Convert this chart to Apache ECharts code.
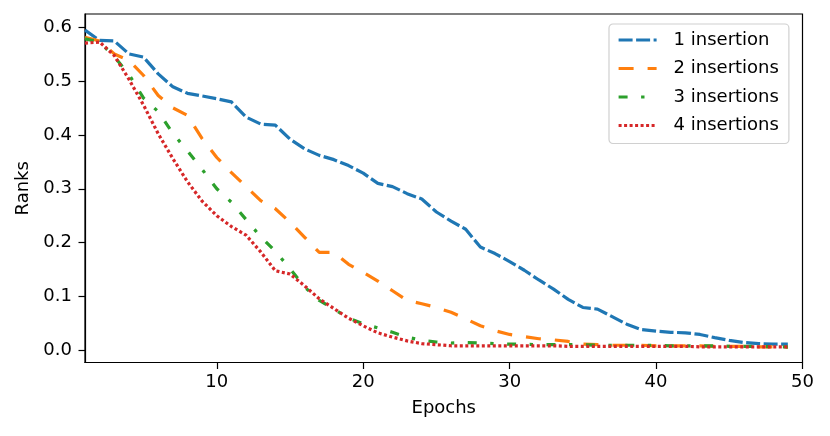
<!DOCTYPE html>
<html>
<head>
<meta charset="utf-8">
<script src="https://cdn.jsdelivr.net/npm/echarts@6/dist/echarts.min.js"></script>
<style>
  html, body { margin: 0; padding: 0; background: #fff; }
  #chart { width: 830px; height: 436px; }
</style>
</head>
<body>
<div id="chart"></div>
<script>
// epochs on the x axis
var epochs = [1, 2, 3, 4, 5, 6, 7, 8, 9, 10, 11, 12, 13, 14, 15, 16, 17, 18, 19, 20,
  21, 22, 23, 24, 25, 26, 27, 28, 29, 30, 31, 32, 33, 34, 35, 36, 37, 38, 39, 40,
  41, 42, 43, 44, 45, 46, 47, 48, 49];

var seriesNames = ['1 insertion', '2 insertions', '3 insertions', '4 insertions'];

var ranks1 = [0.594, 0.575, 0.574, 0.550, 0.544, 0.513, 0.489, 0.477, 0.472, 0.467,
  0.461, 0.433, 0.420, 0.418, 0.392, 0.374, 0.362, 0.354, 0.343, 0.329,
  0.310, 0.304, 0.291, 0.281, 0.257, 0.240, 0.225, 0.192, 0.180, 0.165,
  0.149, 0.131, 0.114, 0.095, 0.080, 0.077, 0.063, 0.049, 0.039, 0.036,
  0.034, 0.033, 0.030, 0.024, 0.019, 0.015, 0.013, 0.012, 0.012];

var ranks2 = [0.581, 0.574, 0.550, 0.538, 0.510, 0.473, 0.450, 0.436, 0.393, 0.358,
  0.330, 0.304, 0.278, 0.263, 0.238, 0.210, 0.182, 0.182, 0.160, 0.145,
  0.129, 0.111, 0.093, 0.087, 0.080, 0.071, 0.059, 0.046, 0.037, 0.030,
  0.026, 0.022, 0.020, 0.017, 0.012, 0.011, 0.010, 0.010, 0.010, 0.009,
  0.009, 0.009, 0.009, 0.008, 0.008, 0.008, 0.007, 0.007, 0.006];

var ranks3 = [0.578, 0.572, 0.545, 0.512, 0.468, 0.443, 0.403, 0.370, 0.336, 0.300,
  0.275, 0.243, 0.211, 0.184, 0.152, 0.118, 0.093, 0.077, 0.060, 0.050,
  0.042, 0.034, 0.025, 0.019, 0.016, 0.014, 0.015, 0.014, 0.013, 0.012,
  0.012, 0.011, 0.011, 0.011, 0.011, 0.010, 0.010, 0.010, 0.010, 0.010,
  0.009, 0.009, 0.009, 0.009, 0.008, 0.008, 0.008, 0.007, 0.007];

var ranks4 = [0.570, 0.572, 0.547, 0.503, 0.455, 0.402, 0.356, 0.313, 0.277, 0.250,
  0.230, 0.214, 0.183, 0.148, 0.142, 0.120, 0.096, 0.078, 0.060, 0.046,
  0.033, 0.025, 0.018, 0.013, 0.011, 0.009, 0.009, 0.009, 0.009, 0.009,
  0.009, 0.009, 0.009, 0.008, 0.008, 0.008, 0.008, 0.008, 0.008, 0.008,
  0.008, 0.008, 0.007, 0.007, 0.007, 0.007, 0.007, 0.007, 0.007];

var xTicks = [10, 20, 30, 40, 50];
var yTicks = [0, 0.1, 0.2, 0.3, 0.4, 0.5, 0.6];

var colors = ['#1f77b4', '#ff7f0e', '#2ca02c', '#d62728'];
var dashes = [[14, 3.5], [15, 14], [9, 13.5, 3.4, 13.5], [3, 2.5]];

function pairs(vals) {
  return epochs.map(function (e, i) { return [e, vals[i]]; });
}

var allRanks = [ranks1, ranks2, ranks3, ranks4];
var series = allRanks.map(function (vals, i) {
  return {
    name: seriesNames[i],
    type: 'line',
    data: pairs(vals),
    showSymbol: false,
    symbol: 'none',
    animation: false,
    lineStyle: { color: colors[i], width: 3.2, type: dashes[i], cap: 'butt' },
    itemStyle: { color: colors[i] }
  };
});

var font = 'DejaVu Sans';
var myChart = echarts.init(document.getElementById('chart'), null, { renderer: 'canvas' });
var option = {
  backgroundColor: '#fff',
  animation: false,
  grid: {
    left: 85, right: 27.5, top: 14, bottom: 73.5,
    show: true, borderColor: '#000', borderWidth: 1.2
  },
  legend: {
    orient: 'vertical',
    left: 609, top: 24,
    padding: [7, 10, 9, 8],
    itemWidth: 38, itemHeight: 18, itemGap: 10.5,
    backgroundColor: '#fff',
    borderColor: '#d0d0d0', borderWidth: 1.2, borderRadius: 4,
    itemStyle: { opacity: 0 },
    lineStyle: { width: 3.2 },
    textStyle: { fontFamily: font, fontSize: 18, color: '#000', padding: [0, 0, 0, 12], lineHeight: 18 },
    data: seriesNames
  },
  xAxis: {
    type: 'value', min: 1, max: 50,
    name: 'Epochs', nameLocation: 'middle', nameGap: 37,
    nameTextStyle: { fontFamily: font, fontSize: 18, color: '#000' },
    axisLine: { show: true, onZero: false, lineStyle: { color: '#000', width: 1.2 } },
    axisTick: { show: true, inside: false, length: 6.5, customValues: xTicks, lineStyle: { color: '#000', width: 1.2 } },
    axisLabel: { customValues: xTicks, margin: 11, fontFamily: font, fontSize: 18, color: '#000' },
    splitLine: { show: false }
  },
  yAxis: {
    type: 'value', min: -0.022, max: 0.624,
    name: 'Ranks', nameLocation: 'middle', nameGap: 52,
    nameTextStyle: { fontFamily: font, fontSize: 18, color: '#000' },
    axisLine: { show: true, onZero: false, lineStyle: { color: '#000', width: 1.2 } },
    axisTick: { show: true, inside: false, length: 6.5, customValues: yTicks, lineStyle: { color: '#000', width: 1.2 } },
    axisLabel: {
      customValues: yTicks, margin: 13, fontFamily: font, fontSize: 18, color: '#000',
      formatter: function (v) { return v.toFixed(1); }
    },
    splitLine: { show: false }
  },
  series: series
};
myChart.setOption(option);
</script>
</body>
</html>
